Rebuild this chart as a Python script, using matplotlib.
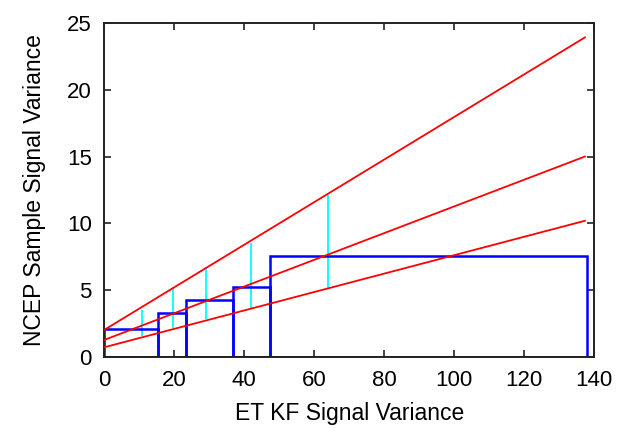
import numpy as np
import matplotlib
matplotlib.use("Agg")
from matplotlib import pyplot as plt

# Datos
bin_edges = [0, 15.3, 23.4, 36.8, 47.5, 137.9]
bin_heights = [2.11, 3.29, 4.28, 5.23, 7.55]

err_x = [10.9, 19.6, 29.2, 41.9, 63.9]
err_lo = [1.6, 2.17, 2.84, 3.66, 5.16]
err_hi = [3.5, 5.28, 6.77, 8.52, 12.13]

fit_x = [0, 137.4]
fit_hi = [2.05, 23.9]
fit_mid = [1.3, 15.0]
fit_lo = [0.75, 10.2]

plt.rcParams['font.family'] = ['Liberation Sans', 'DejaVu Sans']

fig = plt.figure(figsize=(6.18, 4.32), dpi=100)
ax = fig.add_axes([0.1688, 0.1729, 0.7924, 0.7746])

# Rectas rojas
for fy in (fit_hi, fit_mid, fit_lo):
    ax.plot(fit_x, fy, color='#ff0000', lw=1.3, zorder=3)

# Cajas azules
edges = np.array(bin_edges)
ax.bar(edges[:-1], bin_heights, width=np.diff(edges), align='edge',
       fill=False, edgecolor='#0000ff', lw=1.8, zorder=2)

# Barras de error cian
ax.vlines(err_x, err_lo, err_hi, color='#00ffff', lw=1.3, zorder=1)

ax.set_xlim(0, 140)
ax.set_ylim(0, 25)
ax.set_xticks(np.arange(0, 141, 20))
ax.set_yticks(np.arange(0, 26, 5))
ax.tick_params(direction='in', length=5, width=1.2, top=True, right=True,
               labelsize=16, colors='#222222', labelcolor='black', pad=9)
for s in ax.spines.values():
    s.set_linewidth(1.4)
    s.set_color('#222222')

ax.set_xlabel('ET KF Signal Variance', fontsize=16.5, labelpad=8)
ax.set_ylabel('NCEP Sample Signal Variance', fontsize=16.5, labelpad=15)

fig.savefig('out.png', dpi=100)
